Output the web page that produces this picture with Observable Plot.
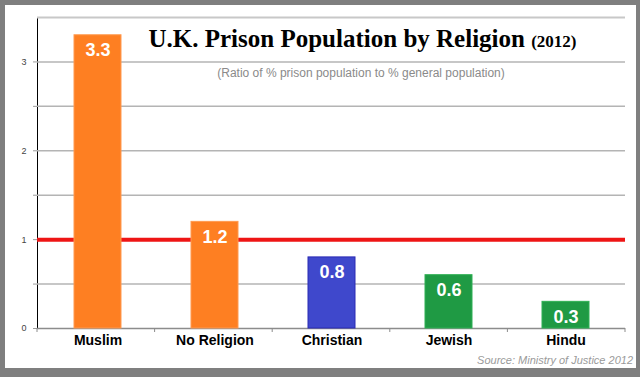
<!DOCTYPE html>
<html>
<head>
<meta charset="utf-8">
<script src="https://cdn.jsdelivr.net/npm/d3@7"></script>
<script src="https://cdn.jsdelivr.net/npm/@observablehq/plot@0.6"></script>
<style>
  html, body { margin: 0; padding: 0; }
  body { width: 640px; height: 377px; background: #7f7f7f; position: relative; overflow: hidden; font-family: "Liberation Sans", Arial, sans-serif; }
  #panel { position: absolute; left: 5px; top: 5px; width: 631px; height: 363px; background: #fff; }
  #chart { position: absolute; left: 0; top: 0; width: 640px; height: 377px; }
  #title { position: absolute; left: 0; width: 725px; top: 24px; text-align: center; font-family: "Liberation Serif", "DejaVu Serif", serif; font-weight: bold; font-size: 25px; line-height: 30px; color: #000; white-space: nowrap; }
  #title .yr { font-size: 17px; }
  #subtitle { position: absolute; left: 0; width: 722px; top: 66px; text-align: center; font-size: 12px; color: #8a8a8a; white-space: nowrap; }
  #source { position: absolute; right: 7px; top: 354px; font-size: 11px; font-style: italic; color: #9a9a9a; white-space: nowrap; }
</style>
</head>
<body>
<div id="panel"></div>
<div id="chart"></div>
<div id="title">U.K. Prison Population by Religion <span class="yr">(2012)</span></div>
<div id="subtitle">(Ratio of % prison population to % general population)</div>
<div id="source">Source: Ministry of Justice 2012</div>
<script>
const categories = ["Muslim", "No Religion", "Christian", "Jewish", "Hindu"];
const ratios = [3.3, 1.2, 0.8, 0.6, 0.3];
const fills = ["#fe7f22", "#fe7f22", "#3f48cc", "#1f9a44", "#1f9a44"];
const strokes = ["#ff9a50", "#ff9a50", "#2a2ab4", "#2fb054", "#2fb054"];
const yTicks = [0, 0.5, 1, 1.5, 2, 2.5, 3];
const gridLines = [0.5, 1.5, 2, 2.5, 3];
const topLine = [3.5];
const parityLine = [1];

const data = categories.map((c, i) => ({category: c, value: ratios[i], fill: fills[i], stroke: strokes[i]}));

const chart = Plot.plot({
  width: 640,
  height: 377,
  marginLeft: 37,
  marginRight: 15,
  marginTop: 17,
  marginBottom: 49,
  style: {background: "transparent", fontFamily: "Liberation Sans, Arial, sans-serif", overflow: "visible"},
  x: {domain: categories, paddingInner: 0.6, paddingOuter: 0.3, tickSize: 0, tickPadding: 7, label: null},
  y: {domain: [0, 3.5], ticks: yTicks, tickSize: 4, tickPadding: 7, label: null, line: true, tickFormat: d => Number.isInteger(d) ? String(d) : ""},
  marks: [
    Plot.ruleY(gridLines, {stroke: "#b4b4b4", strokeWidth: 1.5}),
    Plot.ruleY(topLine, {stroke: "#c8c8c8", strokeWidth: 2}),
    Plot.ruleY([0], {stroke: "#8c8c8c", strokeWidth: 1.5}),
    Plot.ruleY(parityLine, {stroke: "#ee1515", strokeWidth: 4}),
    Plot.barY(data, {x: "category", y: "value", fill: d => d.fill, stroke: d => d.stroke, strokeWidth: 1}),
    Plot.text(data, {x: "category", y: "value", text: d => d.value.toFixed(1), dy: 15, fill: "white", fontSize: 18, fontWeight: "bold"})
  ]
});

// style axes
const svg = d3.select(chart);
svg.selectAll("[aria-label='x-axis'] text, [aria-label='x-axis tick label'] text").attr("font-size", 14).attr("font-weight", "bold").attr("fill", "#000");
svg.selectAll("[aria-label='y-axis'] text, [aria-label='y-axis tick label'] text").attr("font-size", 9).attr("fill", "#444");
svg.selectAll("[aria-label='y-axis'] path, [aria-label='y-axis'] line, [aria-label='y-axis tick'] path").attr("stroke", "#9a9a9a");
svg.selectAll("[aria-label='y-axis'] > path.domain, [aria-label='y-axis'] > .domain").attr("stroke", "#c0c0c0").attr("stroke-width", 2);

// category boundary ticks, from the x scale
const xs = chart.scale("x");
const ys = chart.scale("y");
const xf = d3.scaleBand().domain(xs.domain).range(xs.range).paddingInner(xs.paddingInner ?? 0.6).paddingOuter(xs.paddingOuter ?? 0.3);
const gap = xf.step() - xf.bandwidth();
const bounds = categories.map(c => xf(c) - gap / 2).concat([xf(categories[categories.length - 1]) + xf.bandwidth() + gap / 2]);
const yscale = d3.scaleLinear().domain(ys.domain).range(ys.range);
const y0 = yscale(0);
svg.append("g").selectAll("line").data(bounds).join("line")
  .attr("x1", d => d).attr("x2", d => d).attr("y1", y0).attr("y2", y0 + 4)
  .attr("stroke", "#8c8c8c");

document.getElementById("chart").appendChild(chart);
</script>
</body>
</html>
